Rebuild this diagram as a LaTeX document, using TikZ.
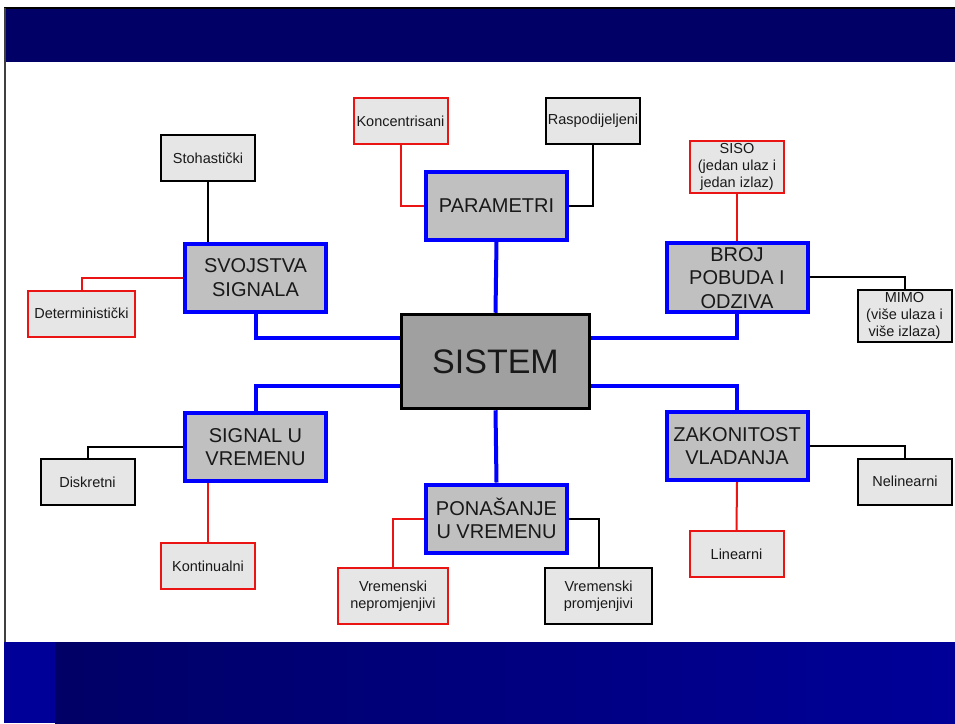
\documentclass[tikz,border=0pt]{standalone}
\usepackage{fontspec}
\setmainfont{Liberation Sans}
\usetikzlibrary{positioning}

\definecolor{navy}{RGB}{0,0,102}
\definecolor{deepblue}{RGB}{0,0,153}
\definecolor{linkblue}{RGB}{0,0,255}
\definecolor{linkred}{RGB}{235,20,20}
\definecolor{boxgray}{RGB}{192,192,192}
\definecolor{coregray}{RGB}{160,160,160}
\definecolor{leafgray}{RGB}{230,230,230}

\tikzset{
  corebox/.style = { draw = black, fill = coregray, line width = 3.5pt, minimum width = 188pt, minimum height = 94pt, font = \fontsize{34}{40}\selectfont },
  mainbox/.style = { draw = linkblue, fill = boxgray, line width = 4pt, minimum width = 141pt, minimum height = 68pt, inner sep = 0pt, font = \fontsize{20}{23.5}\selectfont },
  leafred/.style = { draw = linkred, fill = leafgray, line width = 2pt, minimum width = 94pt, minimum height = 46pt, inner sep = 2pt, font = \fontsize{14.5}{17}\selectfont },
  leafblack/.style = { leafred, draw = black },
  bluelink/.style = { linkblue, line width = 4pt },
  redlink/.style = { linkred, line width = 2pt },
  blacklink/.style = { black, line width = 2pt }
}

\begin{document}
\begin{tikzpicture}
  [
    x = 1pt, y = -1pt,
    every node/.style = { align = center, text = black!90 }
  ]
    \useasboundingbox (0,0) rectangle (955,723);
    \fill [white] (0,0) rectangle (955,723);
    \fill [navy] (4,8) rectangle (955,62);
    \draw [black, line width = 2pt] (4,8) -- (955,8);
    \fill [deepblue] (4,642) rectangle (55,723);
    \shade [left color = navy, right color = deepblue] (55,642) rectangle (955,723);
    \draw [black!75, line width = 1.5pt] (5,8) -- (5,642);

    \node (sistem) [corebox] at (495.5,361.5) {SISTEM};
    \node (svojstva) [mainbox] at (255.5,277.5) {SVOJSTVA\\SIGNALA};
    \node (param) [mainbox] at (496.5,205.5) {PARAMETRI};
    \node (broj) [mainbox, minimum height = 69pt, text height = 62pt, text depth = 0pt] at (737,277) {BROJ\\POBUDA I\\ODZIVA};
    \node (signal) [mainbox] at (255.5,447) {SIGNAL U\\VREMENU};
    \node (ponas) [mainbox] at (496.5,518.5) {PONAŠANJE\\U VREMENU};
    \node (zakon) [mainbox] at (737,446) {ZAKONITOST\\VLADANJA};

    \node (stoh) [leafblack] at (208,158) {Stohastički};
    \node (determ) [leafred, minimum width = 107pt] at (81.5,313.5) {Deterministički};
    \node (konc) [leafred] at (400.5,121) {Koncentrisani};
    \node (rasp) [leafblack] at (593,121) {Raspodijeljeni};
    \node (siso) [leafred, minimum height = 50pt] at (737,167) {SISO\\(jedan ulaz i\\jedan izlaz)};
    \node (mimo) [leafblack, minimum height = 52pt] at (904.5,316) {MIMO\\(više ulaza i\\više izlaza)};
    \node (diskr) [leafblack] at (87.5,482) {Diskretni};
    \node (kontin) [leafred] at (208,566) {Kontinualni};
    \node (vnepr) [leafred, minimum width = 110pt, minimum height = 56pt] at (393,596) {Vremenski\\nepromjenjivi};
    \node (vprom) [leafblack, minimum width = 107pt, minimum height = 56pt] at (598.5,596) {Vremenski\\promjenjivi};
    \node (nelin) [leafblack] at (905,481.5) {Nelinearni};
    \node (linear) [leafred] at (736.5,554) {Linearni};

    \draw [bluelink] (param.south) -- (sistem.north);
    \draw [bluelink] (sistem.south) -- (ponas.north);
    \draw [bluelink] (svojstva.south) |- ([yshift = 24pt] sistem.west);
    \draw [bluelink] (signal.north) |- ([yshift = -24pt] sistem.west);
    \draw [bluelink] (broj.south) |- ([yshift = 24pt] sistem.east);
    \draw [bluelink] (zakon.north) |- ([yshift = -24pt] sistem.east);

    \draw [blacklink] (stoh.south) -- (stoh.south |- svojstva.north);
    \draw [redlink] (svojstva.west) -| (determ.north);
    \draw [redlink] (param.west) -| (konc.south);
    \draw [blacklink] (param.east) -| (rasp.south);
    \draw [redlink] (siso.south) -- (broj.north);
    \draw [blacklink] (broj.east) -| (mimo.north);
    \draw [blacklink] (signal.west) -| (diskr.north);
    \draw [redlink] (kontin.north) -- (kontin.north |- signal.south);
    \draw [redlink] (ponas.west) -| (vnepr.north);
    \draw [blacklink] (ponas.east) -| (vprom.north);
    \draw [blacklink] (zakon.east) -| (nelin.north);
    \draw [redlink] (zakon.south) -- (linear.north);
  \end{tikzpicture}
\end{document}
